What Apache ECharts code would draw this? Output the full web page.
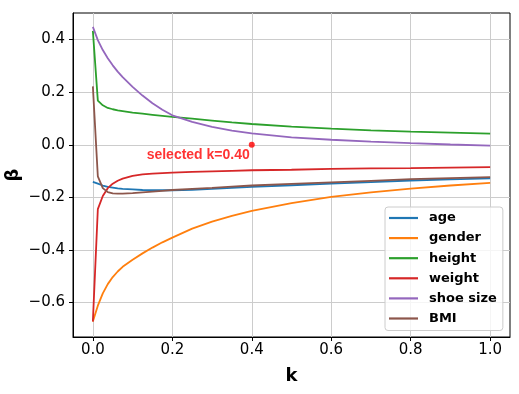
<!DOCTYPE html>
<html>
<head>
<meta charset="utf-8">
<script src="https://cdn.jsdelivr.net/npm/echarts@6/dist/echarts.min.js"></script>
<style>
html,body{margin:0;padding:0;background:#fff;}
#chart{width:519px;height:394px;}
</style>
</head>
<body>
<div id="chart"></div>
<script>
// ridge parameter k
var kValues = [0, 0.0125, 0.025, 0.0375, 0.05, 0.0625, 0.075, 0.1, 0.125, 0.15, 0.175, 0.2, 0.25, 0.3, 0.35, 0.4, 0.5, 0.6, 0.7, 0.8, 0.9, 1.0];
// coefficient traces (beta)
var ageVals      = [-0.141, -0.148, -0.155, -0.160, -0.163, -0.166, -0.168, -0.170, -0.172, -0.173, -0.173, -0.173, -0.171, -0.168, -0.164, -0.160, -0.154, -0.148, -0.142, -0.136, -0.132, -0.128];
var genderVals   = [-0.672, -0.612, -0.565, -0.530, -0.503, -0.482, -0.464, -0.437, -0.413, -0.391, -0.371, -0.353, -0.319, -0.292, -0.270, -0.251, -0.222, -0.198, -0.181, -0.167, -0.155, -0.145];
var heightVals   = [0.433, 0.168, 0.150, 0.140, 0.135, 0.131, 0.128, 0.122, 0.118, 0.114, 0.110, 0.106, 0.099, 0.092, 0.085, 0.079, 0.069, 0.061, 0.055, 0.050, 0.046, 0.042];
var weightVals   = [-0.672, -0.245, -0.195, -0.165, -0.148, -0.137, -0.129, -0.118, -0.113, -0.110, -0.108, -0.106, -0.103, -0.101, -0.099, -0.097, -0.095, -0.092, -0.090, -0.089, -0.087, -0.085];
var shoeVals     = [0.448, 0.398, 0.360, 0.329, 0.302, 0.278, 0.257, 0.220, 0.187, 0.158, 0.133, 0.112, 0.087, 0.068, 0.054, 0.043, 0.028, 0.019, 0.012, 0.006, 0.001, -0.003];
var bmiVals      = [0.222, -0.120, -0.165, -0.180, -0.185, -0.186, -0.186, -0.184, -0.181, -0.178, -0.175, -0.172, -0.168, -0.164, -0.159, -0.155, -0.149, -0.143, -0.137, -0.131, -0.127, -0.123];
var seriesNames  = ['age', 'gender', 'height', 'weight', 'shoe size', 'BMI'];
var seriesVals   = [ageVals, genderVals, heightVals, weightVals, shoeVals, bmiVals];
var seriesColors = ['#1f77b4', '#ff7f0e', '#2ca02c', '#d62728', '#9467bd', '#8c564b'];
// selected k
var selectedK = 0.40;
var selectedBeta = 0.0;
var selectedLabel = 'selected k=0.40';
// tick labels
var xTicks = [0.0, 0.2, 0.4, 0.6, 0.8, 1.0];
var yTicks = [-0.6, -0.4, -0.2, 0.0, 0.2, 0.4];

function fmt1(v){ var s = Math.abs(v).toFixed(1); return (v < -1e-9 ? '\u2212' : '') + s; }

var chart = echarts.init(document.getElementById('chart'), null, {renderer: 'canvas'});
var series = seriesNames.map(function(name, si){
  return {
    name: name,
    type: 'line',
    data: kValues.map(function(k, i){ return [k, seriesVals[si][i]]; }),
    symbol: 'none',
    smooth: false,
    lineStyle: {color: seriesColors[si], width: 1.8},
    itemStyle: {color: seriesColors[si]},
    emphasis: {disabled: true},
    animation: false
  };
});
series.push({
  name: 'selected',
  type: 'scatter',
  data: [[selectedK, selectedBeta]],
  symbolSize: 6,
  itemStyle: {color: '#ff0000'},
  z: 5,
  label: {
    show: true,
    formatter: selectedLabel,
    position: [1, 6],
    align: 'right',
    verticalAlign: 'top',
    color: '#ff0000',
    fontFamily: 'Liberation Sans',
    fontWeight: 'bold',
    fontSize: 14
  },
  animation: false
});

var axisFont = {fontFamily: 'DejaVu Sans', fontSize: 15, color: '#000'};
chart.setOption({
  animation: false,
  backgroundColor: '#fff',
  grid: {left: 73, right: 9, top: 13, bottom: 57, show: true, borderColor: '#000', borderWidth: 1, containLabel: false, outerBoundsMode: 'none'},
  xAxis: {
    type: 'value', min: -0.05, max: 1.05,
    name: 'k', nameLocation: 'middle', nameGap: 30,
    nameTextStyle: {fontFamily: 'DejaVu Sans', fontWeight: 'bold', fontSize: 18, color: '#000'},
    axisLine: {show: true, onZero: false, lineStyle: {color: '#000', width: 1}},
    axisTick: {show: true, length: 4, customValues: xTicks, lineStyle: {color: '#000'}},
    axisLabel: Object.assign({customValues: xTicks, margin: 6, formatter: fmt1}, axisFont),
    splitLine: {show: true, lineStyle: {color: '#cccccc', width: 1}}
  },
  yAxis: {
    type: 'value', min: -0.731, max: 0.501,
    name: '\u03b2', nameLocation: 'middle', nameGap: 51, nameMoveOverlap: false,
    nameTextStyle: {fontFamily: 'DejaVu Sans', fontWeight: 'bold', fontSize: 18, color: '#000'},
    axisLine: {show: true, onZero: false, lineStyle: {color: '#000', width: 1}},
    axisTick: {show: true, length: 4, customValues: yTicks, lineStyle: {color: '#000'}},
    axisLabel: Object.assign({customValues: yTicks, margin: 8, formatter: fmt1}, axisFont),
    splitLine: {show: true, lineStyle: {color: '#cccccc', width: 1}}
  },
  legend: {
    data: seriesNames,
    orient: 'vertical',
    left: 385, top: 207,
    padding: [4, 6, 5, 4],
    icon: 'rect',
    itemWidth: 29, itemHeight: 2.2, itemGap: 6.1,
    backgroundColor: 'rgba(255,255,255,0.8)',
    borderColor: '#cccccc', borderWidth: 1, borderRadius: 3,
    textStyle: {fontFamily: 'DejaVu Sans', fontWeight: 'bold', fontSize: 13, lineHeight: 14, color: '#000', padding: [0, 0, 0, 6]},
    selectedMode: false
  },
  series: series
});
</script>
</body>
</html>
